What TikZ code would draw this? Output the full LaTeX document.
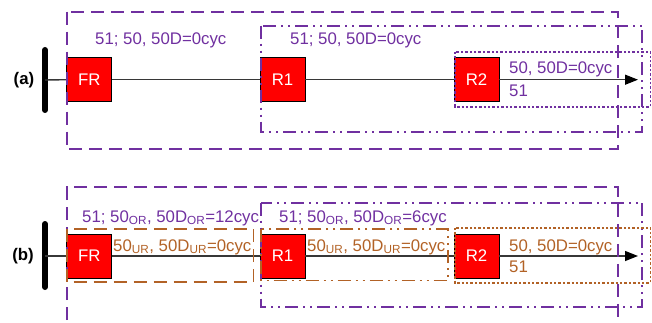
\documentclass[tikz,border=0pt]{standalone}
\usepackage{fontspec}
\setmainfont{Liberation Sans}
\usetikzlibrary{arrows.meta}
\definecolor{vio}{RGB}{112,48,160}
\definecolor{brn}{RGB}{178,98,38}
\definecolor{wire}{RGB}{55,55,55}
\begin{document}
\begin{tikzpicture}[x=1pt,y=-1pt,
  relay/.style={draw=black, line width=0.9pt, fill=red, minimum width=45pt, minimum height=44pt, inner sep=0pt, text=white, font=\fontsize{16.8}{20}\selectfont},
  lbl/.style={anchor=base west, inner sep=0pt, font=\fontsize{16.8}{20}\selectfont},
  tag/.style={inner sep=0pt, font=\fontsize{16.8}{20}\selectfont\bfseries},
  busbar/.style={line width=6pt, line cap=round, black},
  wireline/.style={line width=1.4pt, wire},
  dashframe/.style={line width=1.8pt, dash pattern=on 13pt off 7pt},
  dotdashframe/.style={line width=1.8pt, dash pattern=on 13pt off 5pt on 2pt off 5pt on 2pt off 5pt},
  dotframe/.style={line width=1.9pt, dash pattern=on 2.4pt off 2pt},
  tip/.style={-{Triangle[length=13pt,width=10pt,color=black,fill=black]}}
]
\clip (0,0) rectangle (652,323);
% ---------------- (a) ----------------
\node[tag] (taga) at (24,80) {(a)};
\coordinate (bus1top) at (45,50);
\coordinate (bus1bot) at (45,110);
\coordinate (bus1mid) at (45,80);
\draw[busbar] (bus1top) -- (bus1bot);
\node[relay] (FRa) at (89.2,79.7) {FR};
\node[relay] (R1a) at (282.5,79.7) {R1};
\node[relay] (R2a) at (476.5,79.7) {R2};
\coordinate (enda) at (638,79.7);
\draw[wireline] (bus1mid) -- (FRa.west);
\draw[wireline] (FRa.east) -- (R1a.west);
\draw[wireline] (R1a.east) -- (R2a.west);
\draw[wireline, tip] (R2a.east) -- (enda);
\draw[vio, dashframe] (67,11.7) rectangle (617.7,149.3);
\draw[vio, dotdashframe] (261,25.7) rectangle (642.3,131.7);
\draw[vio, dotframe] (455,51.7) rectangle (650.5,106.7);
\node[lbl, vio] (ta1) at (95,45) {51; 50, 50D=0cyc};
\node[lbl, vio] (ta2) at (290,45) {51; 50, 50D=0cyc};
\node[lbl, vio] (ta3) at (509,74) {50, 50D=0cyc};
\node[lbl, vio] (ta4) at (509,97) {51};
% ---------------- (b) ----------------
\node[tag] (tagb) at (23,256) {(b)};
\coordinate (bus2top) at (45,224);
\coordinate (bus2bot) at (45,287);
\coordinate (bus2mid) at (45,256);
\draw[busbar] (bus2top) -- (bus2bot);
\node[relay] (FRb) at (89.2,256) {FR};
\node[relay] (R1b) at (282.5,256) {R1};
\node[relay] (R2b) at (476.5,256) {R2};
\coordinate (endb) at (638,256);
\draw[wireline] (bus2mid) -- (FRb.west);
\draw[wireline] (FRb.east) -- (R1b.west);
\draw[wireline] (R1b.east) -- (R2b.west);
\draw[wireline, tip] (R2b.east) -- (endb);
\draw[vio, dashframe] (67,340) -- (67,187.3) -- (617.7,187.3) -- (617.7,340);
\draw[vio, dotdashframe] (261,202.7) rectangle (642.3,306.7);
\draw[brn, dashframe] (67,229) rectangle (253.5,282.3);
\draw[brn, dotdashframe] (261,229) rectangle (447.7,280.5);
\draw[brn, dotframe] (455,227.7) rectangle (650.5,282.7);
\node[lbl, vio] (tb1) at (82,222) {51; 50\textsubscript{OR}, 50D\textsubscript{OR}=12cyc};
\node[lbl, vio] (tb2) at (279,222) {51; 50\textsubscript{OR}, 50D\textsubscript{OR}=6cyc};
\node[lbl, brn] (tb3) at (113,251) {50\textsubscript{UR}, 50D\textsubscript{UR}=0cyc};
\node[lbl, brn] (tb4) at (307,251) {50\textsubscript{UR}, 50D\textsubscript{UR}=0cyc};
\node[lbl, brn] (tb5) at (509,251) {50, 50D=0cyc};
\node[lbl, brn] (tb6) at (509,272) {51};
\end{tikzpicture}
\end{document}
